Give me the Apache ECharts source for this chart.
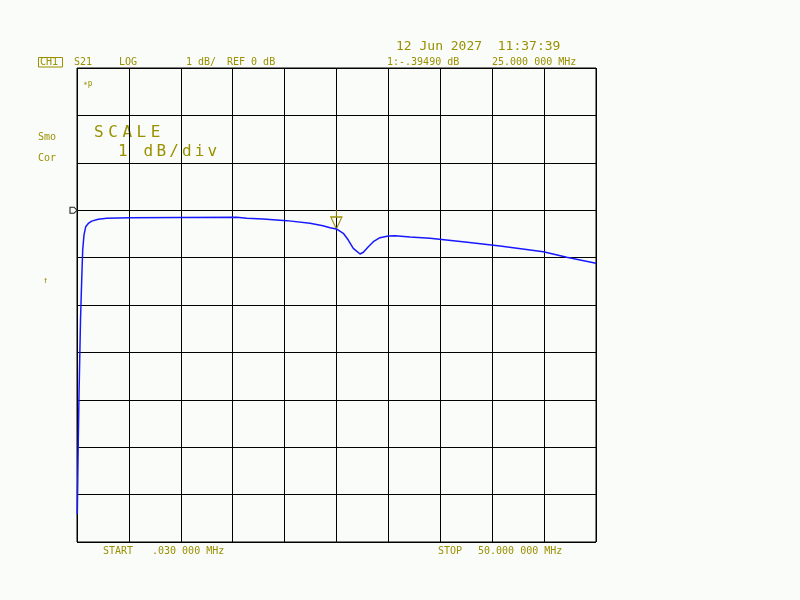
<!DOCTYPE html>
<html>
<head>
<meta charset="utf-8">
<script src="https://cdn.jsdelivr.net/npm/echarts@6/dist/echarts.min.js"></script>
<style>html,body{margin:0;padding:0;background:#f9fcf9;}#c{width:800px;height:600px;}</style>
</head>
<body>
<div id="c"></div>
<script>
// Frequency (MHz) and S21 magnitude (dB)
const freqMHz = [0.059, 0.126, 0.223, 0.367, 0.483, 0.579, 0.704, 0.868, 1.118, 1.445, 2.081, 2.89, 5.13, 9.95, 15.41, 16.37, 17.94, 20.22, 22.46, 23.71, 24.39, 25.0, 25.67, 26.15, 26.63, 27.28, 27.60, 28.08, 28.56, 29.20, 30.00, 30.65, 32.09, 34.02, 37.39, 40.76, 44.93, 47.18, 50.0];
const s21dB = [-6.41, -5.27, -3.90, -2.32, -1.47, -0.84, -0.52, -0.35, -0.28, -0.23, -0.19, -0.17, -0.158, -0.154, -0.150, -0.171, -0.186, -0.22, -0.276, -0.327, -0.369, -0.395, -0.487, -0.629, -0.804, -0.924, -0.888, -0.770, -0.665, -0.58, -0.544, -0.538, -0.565, -0.593, -0.671, -0.755, -0.876, -0.994, -1.12];
const markerFreq = 25.0;
const markerDb = -0.3949;
const refDb = 0;
const startMHz = 0.03, stopMHz = 50.0;
const dbMin = -7, dbMax = 3, dbPerDiv = 1;
const xDivisions = 10;

const headerTexts = ['CH1', 'S21', 'LOG', '1 dB/', 'REF 0 dB', '1:-.39490 dB', '25.000 000 MHz'];
const dateText = '12 Jun 2027  11:37:39';
const sideTexts = ['Smo', 'Cor'];
const scaleText = 'SCALE';
const scaleUnitText = '1 dB/div';
const startText = ['START', '.030 000 MHz'];
const stopText = ['STOP', '50.000 000 MHz'];

const OL = '#9a9000';
const MONO = '"DejaVu Sans Mono", "Liberation Mono", monospace';

const chart = echarts.init(document.getElementById('c'), null, {renderer: 'canvas'});

function txt(text, x, y, size, align) {
  return {type: 'text', silent: true, style: {text: text, x: x, y: y, fill: OL, font: size + 'px ' + MONO, textAlign: align || 'left', textVerticalAlign: 'middle'}};
}
const g = [];
g.push({type: 'rect', shape: {x: 38.5, y: 57.5, width: 24, height: 9.5}, style: {fill: 'none', stroke: OL, lineWidth: 1}});
const hx = [40, 74, 119, 186, 227, 387, 492];
headerTexts.forEach((t, i) => g.push(txt(t, hx[i], 62.5, 10)));
g.push(txt(dateText, 396, 47, 13));
g.push(txt(sideTexts[0], 38, 137, 10));
g.push(txt(sideTexts[1], 38, 158, 10));
scaleText.split('').forEach((ch, i) => g.push(txt(ch, 94 + i * 14.2, 132.5, 16)));
scaleUnitText.split('').forEach((ch, i) => { if (ch !== ' ') g.push(txt(ch, 118 + i * 12.8, 152, 16)); });
g.push(txt('\u2217p', 83, 84, 8));
g.push(txt('\u2191', 43, 281, 9));
g.push(txt(startText[0], 103, 551.5, 10));
g.push(txt(startText[1], 152, 551.5, 10));
g.push(txt(stopText[0], 438, 551.5, 10));
g.push(txt(stopText[1], 478, 551.5, 10));

const option = {
  backgroundColor: '#f9fcf9',
  animation: false,
  grid: {left: 77, top: 68, width: 519, height: 474, show: true, borderColor: '#000', borderWidth: 1, backgroundColor: 'transparent'},
  xAxis: [
    {type: 'value', min: 0, max: xDivisions, interval: 1, axisLabel: {show: false}, axisTick: {show: false}, axisLine: {show: false}, splitLine: {show: true, lineStyle: {color: '#000', width: 1}}},
    {type: 'value', min: startMHz, max: stopMHz, show: false, splitLine: {show: false}}
  ],
  yAxis: {type: 'value', min: dbMin, max: dbMax, interval: dbPerDiv, axisLabel: {show: false}, axisTick: {show: false}, axisLine: {show: false}, splitLine: {show: true, lineStyle: {color: '#000', width: 1}}},
  series: [
    {
      type: 'line', xAxisIndex: 1, showSymbol: false, smooth: false, z: 5,
      lineStyle: {color: '#1818ff', width: 1.5},
      data: freqMHz.map((f, i) => [f, s21dB[i]]),
      markPoint: {
        silent: true,
        label: {show: false},
        data: [
          {coord: [markerFreq, markerDb], symbol: 'path://M5.5,0 L5.5,7 M0,7 L11,7 L5.5,19 Z', symbolSize: [11, 19], symbolOffset: [0, -9.5], itemStyle: {color: 'rgba(0,0,0,0)', borderColor: OL, borderWidth: 1.2}},
          {coord: [startMHz, refDb], symbol: 'path://M0,0 L4,0 L7,3 L4,6 L0,6 Z', symbolSize: [7, 6], symbolOffset: [-3.5, 0], itemStyle: {color: 'rgba(0,0,0,0)', borderColor: '#222', borderWidth: 1}}
        ]
      }
    }
  ],
  graphic: g
};
chart.setOption(option);
</script>
</body>
</html>
